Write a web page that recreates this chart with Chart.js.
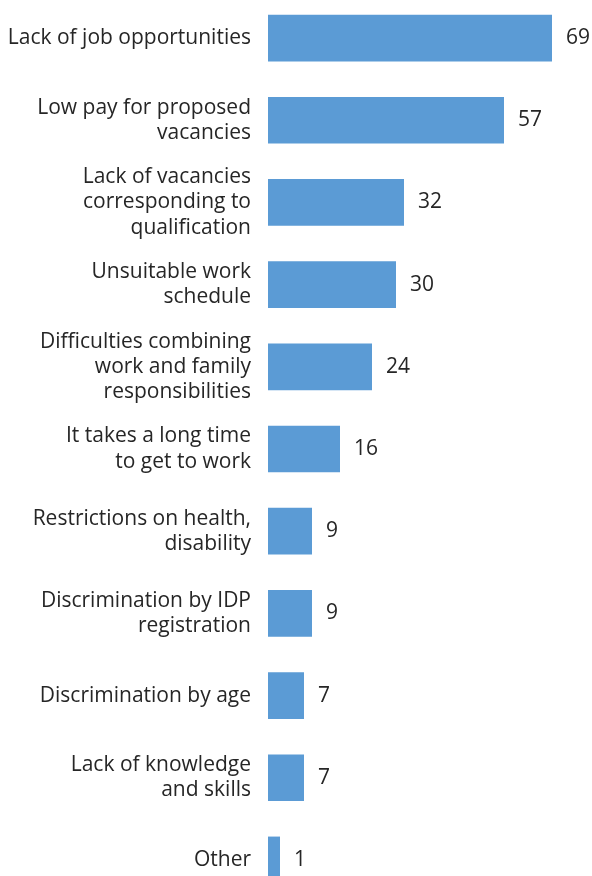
<!DOCTYPE html>
<html>
<head>
<meta charset="utf-8">
<script src="https://cdn.jsdelivr.net/npm/chart.js@4"></script>
<style>
  html, body { margin: 0; padding: 0; background: #fff; overflow: hidden; }
  #wrap { position: absolute; left: 0; top: -3px; width: 592px; height: 904px; }
</style>
</head>
<body>
<div id="wrap"><canvas id="reasons-chart"></canvas></div>
<script>
const categories = [
  ['Lack of job opportunities'],
  ['Low pay for proposed', 'vacancies'],
  ['Lack of vacancies', 'corresponding to', 'qualification'],
  ['Unsuitable work', 'schedule'],
  ['Difficulties combining', 'work and family', 'responsibilities'],
  ['It takes a long time', 'to get to work'],
  ['Restrictions on health,', 'disability'],
  ['Discrimination by IDP', 'registration'],
  ['Discrimination by age'],
  ['Lack of knowledge', 'and skills'],
  ['Other'],
];
const shares = [69, 57, 32, 30, 24, 16, 9, 9, 7, 7, 1];

const FONT = "'Open Sans', sans-serif";

// value labels to the right of each bar
const barValues = {
  id: 'barValues',
  afterDatasetsDraw(chart) {
    const ctx = chart.ctx;
    const meta = chart.getDatasetMeta(0);
    ctx.save();
    ctx.font = '21px ' + FONT;
    ctx.fillStyle = '#262626';
    ctx.textAlign = 'left';
    ctx.textBaseline = 'middle';
    meta.data.forEach((bar, i) => {
      ctx.fillText(String(shares[i]), bar.x + 14, bar.y);
    });
    ctx.restore();
  }
};

new Chart(document.getElementById('reasons-chart'), {
  type: 'bar',
  data: {
    labels: categories,
    datasets: [{
      data: shares,
      base: -2,
      backgroundColor: '#5b9bd5',
      borderWidth: 0,
      barPercentage: 0.568,
      categoryPercentage: 1,
    }],
  },
  options: {
    indexAxis: 'y',
    responsive: true,
    maintainAspectRatio: false,
    animation: false,
    layout: { padding: { left: 0, right: 16, top: 0, bottom: 0 } },
    plugins: {
      legend: { display: false },
      tooltip: { enabled: false },
    },
    scales: {
      x: {
        display: false,
        min: -2,
        max: 75,
      },
      y: {
        grid: { display: false, drawTicks: false },
        border: { display: false },
        ticks: {
          color: '#262626',
          padding: 17,
          font: { family: FONT, size: 21, lineHeight: 1.2 },
        },
        afterFit(scale) {
          scale.width = 268;
          scale.paddingTop = 0;
          scale.paddingBottom = 0;
        },
      },
    },
  },
  plugins: [barValues],
});
</script>
</body>
</html>
